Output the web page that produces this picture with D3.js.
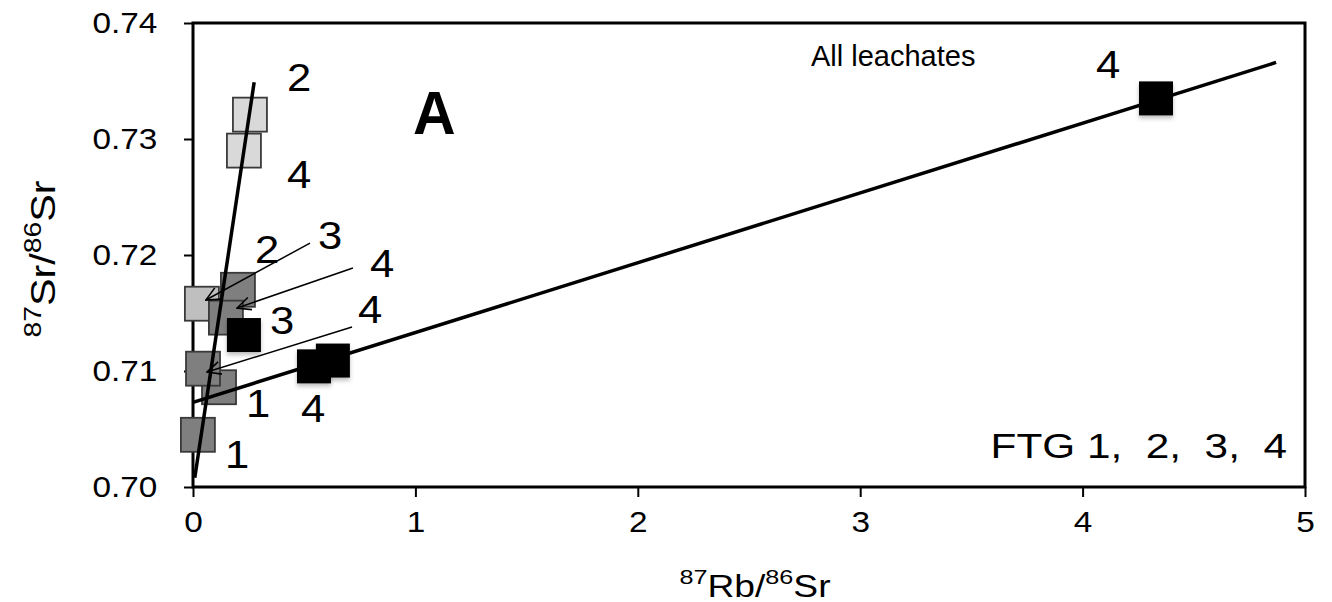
<!DOCTYPE html>
<html lang="en">
<head>
    <meta charset="UTF-8">
    <title>87Sr/86Sr vs 87Rb/86Sr</title>
    <script src="https://d3js.org/d3.v7.min.js"></script>
    <style>
        body {
            margin: 0;
            background: #fff;
        }
        svg text {
            font-family: "Liberation Sans", Arial, sans-serif;
            fill: #000;
        }
        .axis text {
            font-size: 29px;
        }
        .axis path {
            display: none;
        }
        .axis line {
            stroke: #000;
            stroke-width: 2px;
        }
    </style>
</head>
<body>
    <div id="chart"></div>
    <script>
        // samples: [87Rb/86Sr, 87Sr/86Sr]
        const veryLight = [[0.256, 0.7321], [0.229, 0.7290]];
        const lightGray = [[0.040, 0.7158]];
        const darkGray = [[0.117, 0.7086], [0.045, 0.7102], [0.202, 0.7170], [0.148, 0.7146], [0.022, 0.7045]];
        const blackPts = [[0.229, 0.7131], [0.544, 0.7104], [0.629, 0.7109], [4.330, 0.7335]];

        // regression lines (end points in data units)
        const steepLine = [[0.008, 0.7008], [0.275, 0.7349]];
        const allLeachLine = [[0.0, 0.7073], [4.87, 0.7366]];

        // leader arrows: [from, to]
        const arrows = [
            [[0.526, 0.72103], [0.058, 0.71612]],
            [[0.719, 0.71888], [0.198, 0.71543]],
            [[0.715, 0.71379], [0.063, 0.70991]]
        ];

        // step labels: [x, y, text]
        const stepLabels = [
            [0.423, 0.73414, "2"], [0.423, 0.72578, "4"], [0.279, 0.71931, "2"],
            [0.562, 0.72052, "3"], [0.796, 0.71810, "4"], [0.346, 0.71319, "3"],
            [0.742, 0.71414, "4"], [0.238, 0.70603, "1"], [0.486, 0.70560, "4"],
            [0.144, 0.70164, "1"], [4.060, 0.73526, "4"]
        ];

        const xTicks = [0, 1, 2, 3, 4, 5];
        const yTicks = [0.70, 0.71, 0.72, 0.73, 0.74];

        const width = 1332, height = 602;
        const box = { left: 193, right: 1305, top: 23, bottom: 487 };

        const x = d3.scaleLinear().domain([0, 5]).range([box.left, box.right]);
        const y = d3.scaleLinear().domain([0.70, 0.74]).range([box.bottom, box.top]);

        const svg = d3.select("#chart").append("svg")
            .attr("width", width)
            .attr("height", height);

        // the source picture is a little stretched sideways, so text gets a scale
        function putText(px, py, sx, sy) {
            return `translate(${px},${py}) scale(${sx},${sy})`;
        }

        // axes
        const yAxis = svg.append("g")
            .attr("class", "axis")
            .attr("transform", `translate(${box.left},0)`)
            .call(d3.axisLeft(y).tickValues(yTicks).tickFormat(d3.format(".2f"))
                .tickSize(9).tickPadding(22));
        yAxis.selectAll("text").attr("transform", "scale(1.15,1)");

        const xAxis = svg.append("g")
            .attr("class", "axis")
            .attr("transform", `translate(0,${box.bottom})`)
            .call(d3.axisBottom(x).tickValues(xTicks).tickFormat(d3.format("d"))
                .tickSize(10).tickPadding(14));
        xAxis.selectAll("text").attr("transform", "scale(1.15,1)");

        // frame
        svg.append("rect")
            .attr("x", box.left)
            .attr("y", box.top)
            .attr("width", box.right - box.left)
            .attr("height", box.bottom - box.top)
            .attr("fill", "none")
            .attr("stroke", "#000")
            .attr("stroke-width", 3);

        const side = 34;
        function squares(data, fill, stroke) {
            svg.append("g").selectAll("rect")
                .data(data)
                .enter()
                .append("rect")
                .attr("x", d => x(d[0]) - side / 2)
                .attr("y", d => y(d[1]) - side / 2)
                .attr("width", side)
                .attr("height", side)
                .attr("fill", fill)
                .attr("stroke", stroke)
                .attr("stroke-width", 1.8);
        }

        squares(veryLight, "#d9d9d9", "#3a3a3a");
        squares(lightGray, "#bfbfbf", "#3a3a3a");
        squares(darkGray, "#7f7f7f", "#3a3a3a");

        const line = d3.line().x(d => x(d[0])).y(d => y(d[1]));
        [steepLine, allLeachLine].forEach(l => {
            svg.append("path")
                .attr("d", line(l))
                .attr("fill", "none")
                .attr("stroke", "#000")
                .attr("stroke-width", 3.5);
        });

        // shadow for the black squares
        const defs = svg.append("defs");
        const shadow = defs.append("filter").attr("id", "shadow")
            .attr("x", "-30%").attr("y", "-30%").attr("width", "160%").attr("height", "170%");
        shadow.append("feDropShadow")
            .attr("dx", 0).attr("dy", 3).attr("stdDeviation", 2)
            .attr("flood-color", "#000").attr("flood-opacity", 0.25);

        svg.append("g").selectAll("rect")
            .data(blackPts)
            .enter()
            .append("rect")
            .attr("x", d => x(d[0]) - side / 2)
            .attr("y", d => y(d[1]) - side / 2)
            .attr("width", side)
            .attr("height", side)
            .attr("fill", "#000")
            .attr("filter", "url(#shadow)");

        // leader arrows with open heads
        defs.append("marker")
            .attr("id", "head")
            .attr("viewBox", "0 0 20 20")
            .attr("refX", 19)
            .attr("refY", 10)
            .attr("markerWidth", 16)
            .attr("markerHeight", 16)
            .attr("markerUnits", "userSpaceOnUse")
            .attr("orient", "auto")
            .append("path")
            .attr("d", "M2,2 L19,10 L2,18")
            .attr("fill", "none")
            .attr("stroke", "#000")
            .attr("stroke-width", 2);

        svg.append("g").selectAll("line")
            .data(arrows)
            .enter()
            .append("line")
            .attr("x1", d => x(d[0][0]))
            .attr("y1", d => y(d[0][1]))
            .attr("x2", d => x(d[1][0]))
            .attr("y2", d => y(d[1][1]))
            .attr("stroke", "#000")
            .attr("stroke-width", 1.5)
            .attr("marker-end", "url(#head)");

        svg.append("g").selectAll("text")
            .data(stepLabels)
            .enter()
            .append("text")
            .attr("transform", d => putText(x(d[0]), y(d[1]), 1.12, 1))
            .attr("font-size", 39)
            .text(d => d[2]);

        svg.append("text")
            .attr("transform", putText(413, 134, 1, 1.05))
            .attr("font-size", 59)
            .attr("font-weight", "bold")
            .text("A");

        svg.append("text")
            .attr("x", 811)
            .attr("y", 66)
            .attr("font-size", 29)
            .text("All leachates");

        svg.append("text")
            .attr("transform", putText(1287, 458, 1.21, 1))
            .attr("text-anchor", "end")
            .attr("font-size", 35)
            .style("white-space", "pre")
            .text("FTG 1,  2,  3,  4");

        // axis titles
        const xt = svg.append("text")
            .attr("transform", putText(755, 597, 1.2, 1))
            .attr("text-anchor", "middle")
            .attr("font-size", 31);
        xt.append("tspan").attr("font-size", 21).attr("dy", -13).text("87");
        xt.append("tspan").attr("dy", 13).text("Rb/");
        xt.append("tspan").attr("font-size", 21).attr("dy", -13).text("86");
        xt.append("tspan").attr("dy", 13).text("Sr");

        const yt = svg.append("text")
            .attr("transform", "translate(55,259) rotate(-90) scale(1.18,1)")
            .attr("text-anchor", "middle")
            .attr("font-size", 35);
        yt.append("tspan").attr("font-size", 24).attr("dy", -14).text("87");
        yt.append("tspan").attr("dy", 14).text("Sr/");
        yt.append("tspan").attr("font-size", 24).attr("dy", -14).text("86");
        yt.append("tspan").attr("dy", 14).text("Sr");
    </script>
</body>
</html>
